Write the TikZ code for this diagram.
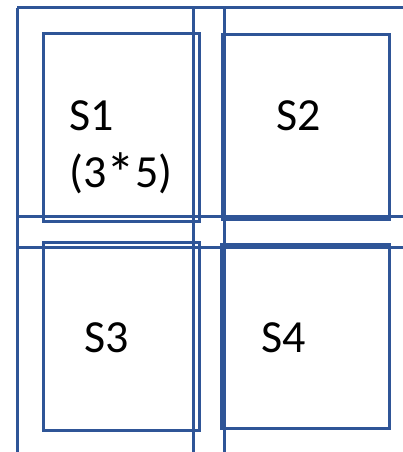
\documentclass[tikz,border=0pt]{standalone}
\usepackage{fontspec}
\setmainfont{Carlito}
\definecolor{gridblue}{RGB}{47,85,151}
\begin{document}
\begin{tikzpicture}[x=1pt,y=-1pt,
  ln/.style={draw=gridblue,line width=3pt},
  lbl/.style={anchor=base west,inner sep=0pt,font=\fontsize{46}{52}\selectfont}]
\useasboundingbox (0,0) rectangle (403,452);
% grid lines
\coordinate (t1) at (17,8);   \coordinate (t2) at (403,8);
\coordinate (m1) at (17,216); \coordinate (m2) at (403,216);
\coordinate (n1) at (17,247); \coordinate (n2) at (403,247);
\coordinate (v1a) at (17,8);  \coordinate (v1b) at (17,452);
\coordinate (v2a) at (193,8); \coordinate (v2b) at (193,452);
\coordinate (v3a) at (224,8); \coordinate (v3b) at (224,452);
\draw[ln] (t1) -- (t2);
\draw[ln] (m1) -- (m2);
\draw[ln] (n1) -- (n2);
\draw[ln] (v1a) -- (v1b);
\draw[ln] (v2a) -- (v2b);
\draw[ln] (v3a) -- (v3b);
% boxes
\draw[ln] (43,34) rectangle (199,221);
\draw[ln] (222,35) rectangle (389,219);
\draw[ln] (43,242) rectangle (199,430);
\draw[ln] (221,244) rectangle (389,428);
% labels
\node[lbl] (s1) at (69,130) {S1};
\node[lbl] (s1b) at (69,187) {(3\raisebox{-0.14em}{\scalebox{1.25}{*}}5)};
\node[lbl] (s2) at (276,130) {S2};
\node[lbl] (s3) at (84,352) {S3};
\node[lbl] (s4) at (261,352) {S4};
\end{tikzpicture}
\end{document}
